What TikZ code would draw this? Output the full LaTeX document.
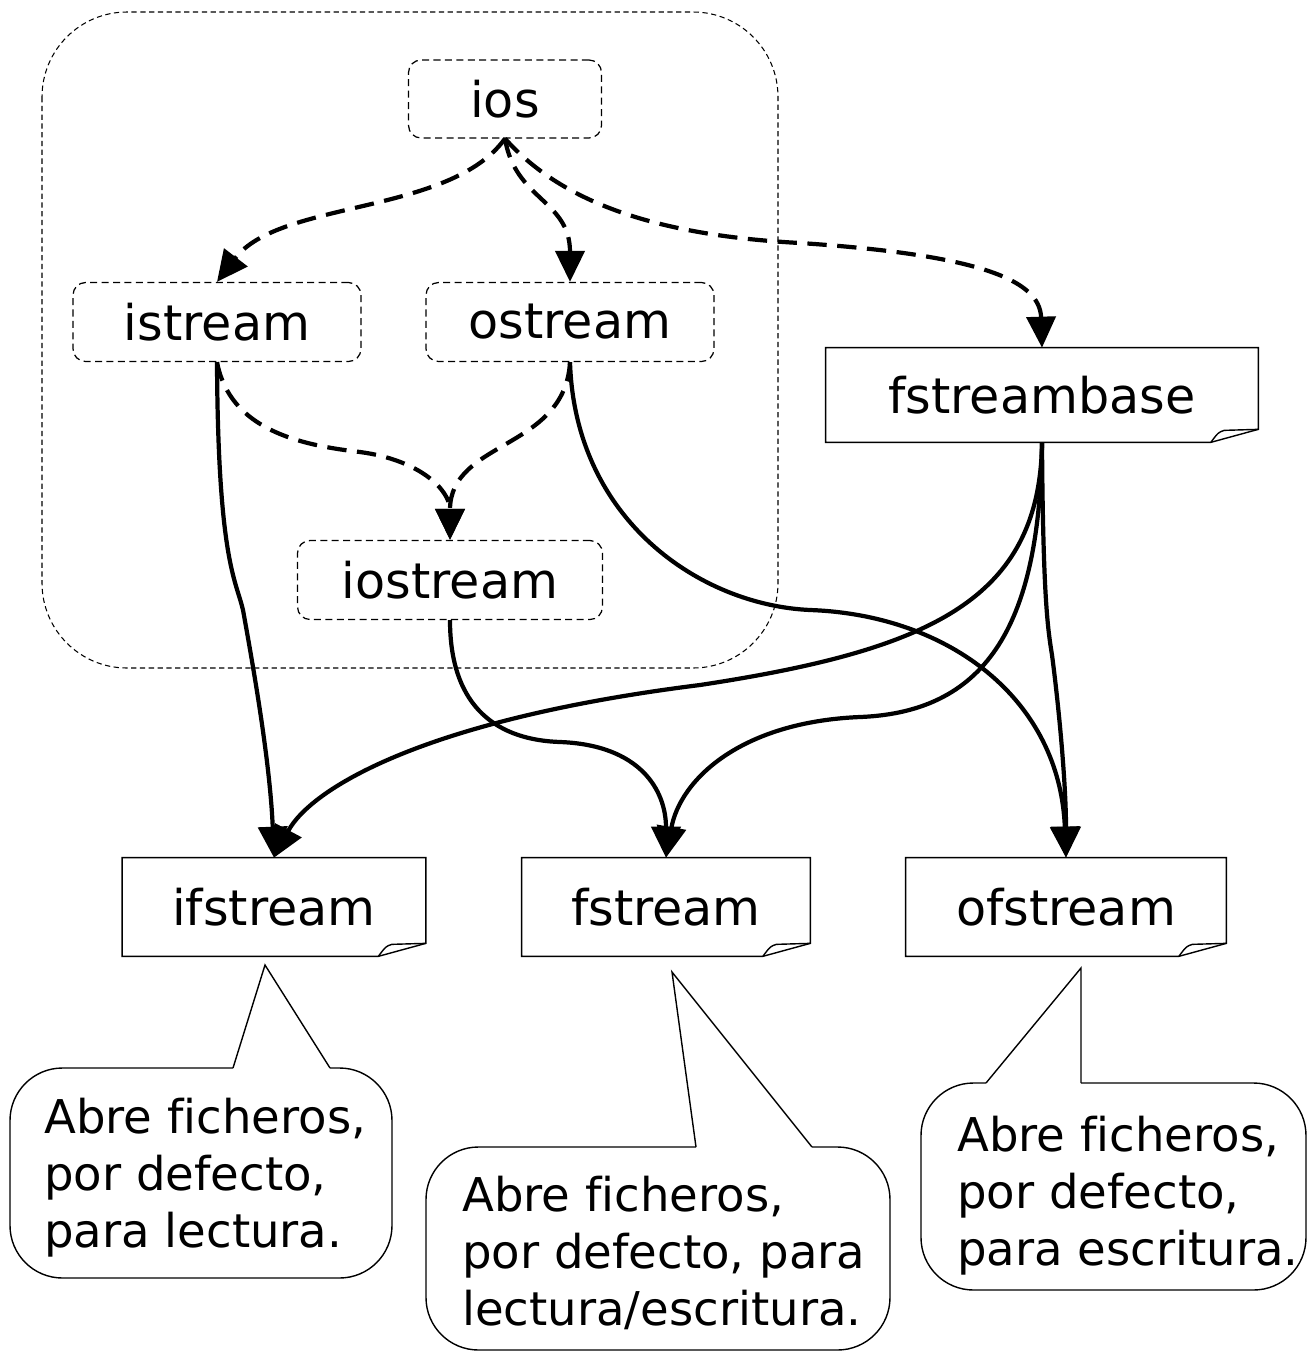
\documentclass[tikz,border=0pt]{standalone}
\usepackage{fontspec}
\setmainfont[Ligatures=NoCommon]{DejaVu Sans}
\usetikzlibrary{arrows.meta}

\tikzset{
  clase/.style={draw, dash pattern=on 4pt off 2.5pt, rounded corners=0.25cm, line width=0.7pt,
    font=\fontsize{28}{34}\selectfont, inner sep=0pt},
  fichero/.style={font=\fontsize{28}{34}\selectfont, inner sep=0pt},
  hereda/.style={line width=2.4pt, dash pattern=on 11pt off 6pt, -{Triangle[length=0.62cm,width=0.58cm]}},
  usa/.style={line width=2.4pt, -{Triangle[length=0.62cm,width=0.58cm]}},
  nota/.style={font=\fontsize{26.5}{32.5}\selectfont, align=left, inner sep=0pt, anchor=west},
  globo/.style={line width=0.8pt, rounded corners=1.05cm}
}

% hoja con la esquina doblada
\newcommand{\hoja}[1]{%
  \draw[line width=0.8pt] (#1.north west) -- (#1.north east) -- ([yshift=0.26cm]#1.south east)
    -- ([xshift=-0.95cm]#1.south east) -- (#1.south west) -- cycle;
  \draw[line width=0.8pt] ([xshift=-0.95cm]#1.south east)
    .. controls ([xshift=-0.8cm,yshift=0.2cm]#1.south east) .. ([xshift=-0.68cm,yshift=0.24cm]#1.south east)
    -- ([yshift=0.26cm]#1.south east);
}

\begin{document}
\begin{tikzpicture}[x=0.02cm,y=-0.02cm]
  \useasboundingbox (0,0) rectangle (1312,1353);

  % grupo de iostream
  \draw[dash pattern=on 3pt off 2pt, line width=0.6pt, rounded corners=1.7cm] (42,12) rectangle (778,668);

  \node[clase, minimum width=3.86cm, minimum height=1.56cm] (ios) at (505,99) {ios};
  \node[clase, minimum width=5.76cm, minimum height=1.58cm] (istream) at (217,322) {istream};
  \node[clase, minimum width=5.76cm, minimum height=1.58cm] (ostream) at (570,322) {ostream};
  \node[clase, minimum width=6.1cm, minimum height=1.58cm] (iostream) at (450,580) {iostream};

  % clases de fichero
  \node[fichero, minimum width=8.64cm, minimum height=1.88cm] (fstreambase) at (1042,395) {fstreambase};
  \node[fichero, minimum width=6.06cm, minimum height=1.96cm] (ifstream) at (274,907) {ifstream};
  \node[fichero, minimum width=5.76cm, minimum height=1.96cm] (fstream) at (666,907) {fstream};
  \node[fichero, minimum width=6.4cm, minimum height=1.96cm] (ofstream) at (1066,907) {ofstream};
  \hoja{fstreambase}
  \hoja{ifstream}
  \hoja{fstream}
  \hoja{ofstream}

  % herencia virtual
  \draw[hereda] (ios.south) .. controls (450,215) and (280,200) .. (istream.north);
  \draw[hereda] (ios.south) .. controls (515,200) and (570,200) .. (ostream.north);
  \draw[hereda] (ios.south) .. controls (560,200) and (650,235) .. (800,243)
    .. controls (980,255) and (1040,280) .. (fstreambase.north);
  \draw[hereda] (istream.south) .. controls (230,430) and (300,445) .. (360,452)
    .. controls (420,460) and (450,490) .. (iostream.north);
  \draw[hereda] (ostream.south) .. controls (565,450) and (450,440) .. (iostream.north);

  % herencia normal
  \draw[usa] (istream.south) .. controls (218,560) and (236,580) .. (243,610)
    .. controls (252,660) and (270,760) .. (ifstream.north);
  \draw[usa] (ostream.south) .. controls (575,520) and (700,605) .. (810,610)
    .. controls (950,615) and (1060,700) .. (ofstream.north);
  \draw[usa] (iostream.south) .. controls (450,710) and (500,740) .. (560,742)
    .. controls (640,745) and (666,790) .. (fstream.north);
  \draw[usa] (fstreambase.south) .. controls (1040,600) and (930,650) .. (700,685)
    .. controls (420,720) and (310,790) .. (ifstream.north);
  \draw[usa] (fstreambase.south) .. controls (1040,620) and (990,712) .. (860,717)
    .. controls (740,722) and (680,780) .. (fstream.north);
  \draw[usa] (fstreambase.south) .. controls (1043,600) and (1048,630) .. (1052,655)
    .. controls (1058,700) and (1066,780) .. (ofstream.north);

  % globos
  \draw[globo] (330,1068) -- (392,1068) -- (392,1278) -- (10,1278) -- (10,1068) -- (233,1068);
  \draw[line width=0.8pt] (233,1068) -- (265,965) -- (330,1068);
  \node[nota] (notaIf) at (44,1178) {Abre ficheros,\\por defecto,\\para lectura.};

  \draw[globo] (812,1147) -- (890,1147) -- (890,1350) -- (426,1350) -- (426,1147) -- (696,1147);
  \draw[line width=0.8pt] (696,1147) -- (672,972) -- (812,1147);
  \node[nota] (notaF) at (462,1253) {Abre ficheros,\\por defecto, para\\lectura/escritura.};

  \draw[globo] (1081,1083) -- (1306,1083) -- (1306,1290) -- (921,1290) -- (921,1083) -- (986,1083);
  \draw[line width=0.8pt] (986,1083) -- (1081,968) -- (1081,1083);
  \node[nota] (notaOf) at (957,1196) {Abre ficheros,\\por defecto,\\para escritura.};
\end{tikzpicture}
\end{document}
